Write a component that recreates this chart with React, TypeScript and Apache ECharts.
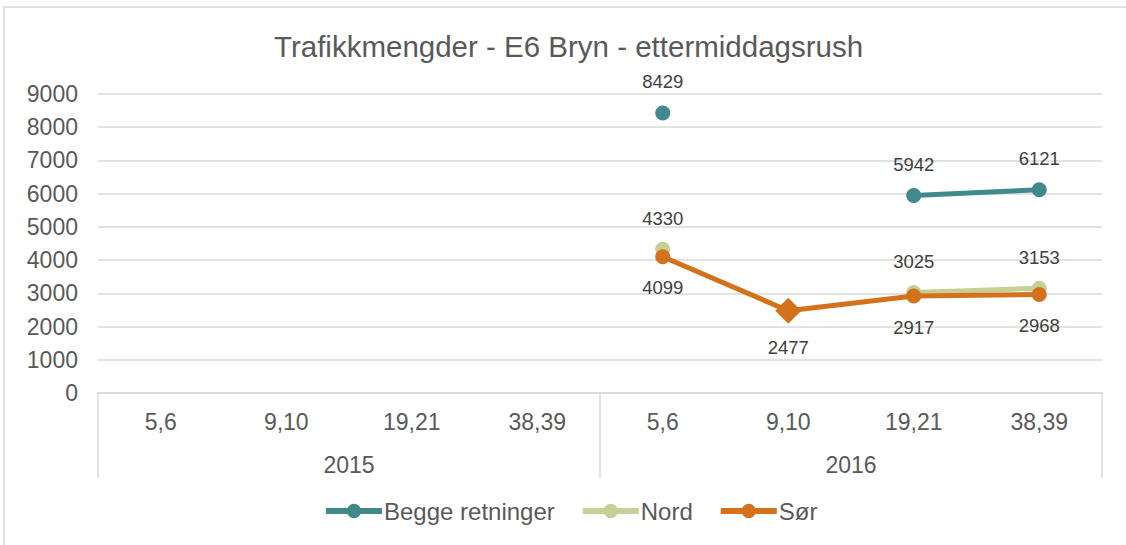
import React, { useEffect, useRef } from "react";
import * as echarts from "echarts";

const weeks = ["5,6", "9,10", "19,21", "38,39", "5,6", "9,10", "19,21", "38,39"];
const years = ["2015", "2016"];
const yTicks = [0, 1000, 2000, 3000, 4000, 5000, 6000, 7000, 8000, 9000];
const beggeValues: (number | null)[] = [null, null, null, null, 8429, null, 5942, 6121];
const nordValues: (number | null)[] = [null, null, null, null, 4330, null, 3025, 3153];
const sorValues: (number | null)[] = [null, null, null, null, 4099, 2477, 2917, 2968];
const diamondIndex = 5;

const FONT = "'Liberation Sans', Arial, sans-serif";

export default function App() {
  const ref = useRef<HTMLDivElement>(null);
  useEffect(() => {
    if (!ref.current) return;
    const chart = echarts.init(ref.current, undefined, { renderer: "svg" });
    const labelStyle = { fontFamily: FONT, fontSize: 18.5, color: "#404040" };
    const mk = (
      name: string,
      vals: (number | null)[],
      color: string,
      pos: "top" | "bottom",
      z: number
    ) => ({
      name,
      type: "line",
      z,
      data: vals.map((v, i) =>
        name === "Sør" && i === diamondIndex
          ? { value: v, symbol: "diamond", symbolSize: 26 }
          : v
      ),
      symbol: "circle",
      symbolSize: 15,
      showSymbol: true,
      connectNulls: false,
      lineStyle: { color, width: 5 },
      itemStyle: { color },
      label: { show: true, position: pos, distance: 14, ...labelStyle },
    });
    chart.setOption({
      animation: false,
      textStyle: { fontFamily: FONT },
      graphic: [
        {
          type: "rect",
          shape: { x: 4, y: 7, width: 1140, height: 560 },
          style: { fill: "none", stroke: "#d9d9d9", lineWidth: 1.5 },
          silent: true,
        },
      ],
      title: {
        text: "Trafikkmengder - E6 Bryn - ettermiddagsrush",
        left: 269,
        top: 26,
        textStyle: { fontFamily: FONT, fontSize: 29.5, fontWeight: "normal", color: "#595959" },
      },
      legend: {
        bottom: 17,
        left: 318,
        itemWidth: 56,
        itemHeight: 18,
        itemGap: 25,
        lineStyle: { width: 6 },
        textStyle: { fontFamily: FONT, fontSize: 24, color: "#595959", padding: [0, 0, 0, -3] },
        data: ["Begge retninger", "Nord", "Sør"],
      },
      grid: { left: 98, right: 24, top: 94, bottom: 152 },
      xAxis: [
        {
          type: "category",
          data: weeks,
          position: "bottom",
          axisLine: { show: true, lineStyle: { color: "#d9d9d9", width: 1.5 } },
          axisTick: { show: false },
          axisLabel: { fontFamily: FONT, fontSize: 23, color: "#595959", margin: 17, interval: 0 },
        },
        {
          type: "category",
          data: years,
          position: "bottom",
          axisLine: { show: false },
          axisTick: { show: true, length: 85, lineStyle: { color: "#d9d9d9", width: 1.5 } },
          axisLabel: { fontFamily: FONT, fontSize: 23, color: "#595959", margin: 60 },
        },
      ],
      yAxis: {
        type: "value",
        min: yTicks[0],
        max: yTicks[yTicks.length - 1],
        interval: 1000,
        axisLine: { show: false },
        axisTick: { show: false },
        axisLabel: {
          fontFamily: FONT,
          fontSize: 23,
          color: "#595959",
          margin: 20,
          formatter: (v: number) => String(v),
        },
        splitLine: { lineStyle: { color: "#d9d9d9", width: 1.5 } },
      },
      series: [
        mk("Begge retninger", beggeValues, "#418a8c", "top", 3),
        mk("Nord", nordValues, "#c6cf94", "top", 2),
        mk("Sør", sorValues, "#d4721c", "bottom", 4),
      ],
    });
    return () => chart.dispose();
  }, []);
  return (
    <div
      ref={ref}
      style={{ position: "fixed", left: 0, top: 0, width: 1126, height: 545, background: "#fff" }}
    />
  );
}
